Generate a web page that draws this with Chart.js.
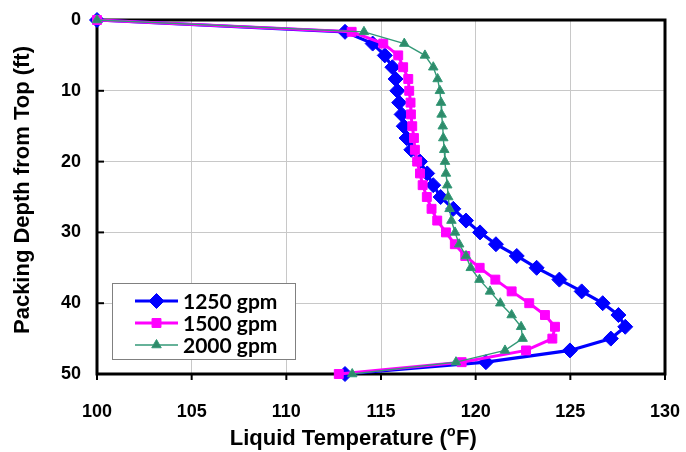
<!DOCTYPE html>
<html>
<head>
<meta charset="utf-8">
<script src="https://cdn.jsdelivr.net/npm/chart.js@4/dist/chart.umd.min.js"></script>
<style>
html,body{margin:0;padding:0;background:#fff;}
#wrap{width:686px;height:452px;position:relative;}
</style>
</head>
<body>
<div id="wrap"><canvas id="c" width="686" height="452"></canvas></div>
<script>
// ---- data ----
const depthFt = [0, 1.67, 3.33, 5, 6.67, 8.33, 10, 11.67, 13.33, 15, 16.67, 18.33, 20, 21.67, 23.33, 25,
  26.67, 28.33, 30, 31.67, 33.33, 35, 36.67, 38.33, 40, 41.67, 43.33, 45, 46.67, 48.33, 50];
const temp1250 = [100, 113.1, 114.56, 115.2, 115.6, 115.77, 115.86, 115.96, 116.09, 116.2, 116.35, 116.6,
  117.06, 117.44, 117.76, 118.15, 118.82, 119.49, 120.23, 121.07, 122.17, 123.22, 124.42, 125.6,
  126.71, 127.54, 127.9, 127.14, 124.98, 120.54, 113.1];
const temp1500 = [100, 113.45, 115.12, 115.91, 116.17, 116.44, 116.49, 116.56, 116.58, 116.65, 116.74,
  116.79, 116.91, 117.06, 117.2, 117.42, 117.67, 117.97, 118.43, 118.9, 119.45, 120.21, 121.04,
  121.9, 122.83, 123.66, 124.19, 124.05, 122.66, 119.26, 112.77];
const temp2000 = [100, 114.1, 116.23, 117.32, 117.76, 117.99, 118.11, 118.17, 118.2, 118.26, 118.29,
  118.34, 118.38, 118.43, 118.5, 118.55, 118.62, 118.72, 118.91, 119.13, 119.49, 119.74, 120.2,
  120.76, 121.3, 121.9, 122.4, 122.48, 121.55, 118.96, 113.48];
const seriesLabels = ["1250 gpm", "1500 gpm", "2000 gpm"];
const xAxisTitle = ["Liquid Temperature (", "o", "F)"];
const yAxisTitle = "Packing Depth from Top (ft)";
const xTickValues = [100, 105, 110, 115, 120, 125, 130];
const yTickValues = [0, 10, 20, 30, 40, 50];

const pts = arr => arr.map((t, i) => ({x: t, y: depthFt[i]}));
const ARIAL = '"Liberation Sans", Arial, sans-serif';
const LEG_FONT = 'Lato, "Open Sans", sans-serif';

const datasets = [
  {label: seriesLabels[0], data: pts(temp1250), borderColor: '#0000FF', backgroundColor: '#0000FF',
   borderWidth: 3.2, pointStyle: 'rectRot', pointRadius: 7.5, pointBorderWidth: 1, order: 3},
  {label: seriesLabels[1], data: pts(temp1500), borderColor: '#FF00FF', backgroundColor: '#FF00FF',
   borderWidth: 3, pointStyle: 'rect', pointRadius: 6.3, pointBorderWidth: 1, order: 2},
  {label: seriesLabels[2], data: pts(temp2000), borderColor: '#339977', backgroundColor: '#2E8B6A',
   borderWidth: 1.4, pointStyle: 'triangle', pointRadius: 5.5, pointBorderWidth: 1, order: 1}
];
datasets.forEach(d => { d.showLine = true; d.clip = false; d.tension = 0; d.pointHoverRadius = d.pointRadius; });

const framePlugin = {
  id: 'frame',
  beforeDatasetsDraw(chart) {
    const {ctx, chartArea: a, scales} = chart;
    ctx.save();
    ctx.strokeStyle = '#000';
    ctx.lineWidth = 2;
    xTickValues.forEach(v => {
      const px = scales.x.getPixelForValue(v);
      ctx.beginPath(); ctx.moveTo(px, a.bottom); ctx.lineTo(px, a.bottom + 6); ctx.stroke();
    });
    yTickValues.forEach(v => {
      const py = scales.y.getPixelForValue(v);
      ctx.beginPath(); ctx.moveTo(a.left, py); ctx.lineTo(a.left + 7, py); ctx.stroke();
    });
    ctx.lineWidth = 3;
    ctx.strokeRect(a.left, a.top, a.right - a.left, a.bottom - a.top);
    ctx.restore();
  },
  afterDraw(chart) {
    const {ctx} = chart;
    ctx.save();
    ctx.fillStyle = '#000';
    // y title
    ctx.font = 'bold 22px ' + ARIAL;
    ctx.textAlign = 'center';
    ctx.textBaseline = 'middle';
    ctx.translate(23, 190);
    ctx.rotate(-Math.PI / 2);
    ctx.fillText(yAxisTitle, 0, 0);
    ctx.setTransform(1, 0, 0, 1, 0, 0);
    // x title with superscript
    ctx.textAlign = 'left';
    ctx.textBaseline = 'alphabetic';
    const fMain = 'bold 22px ' + ARIAL, fSup = 'bold 14px ' + ARIAL;
    ctx.font = fMain; const w1 = ctx.measureText(xAxisTitle[0]).width;
    const w3 = ctx.measureText(xAxisTitle[2]).width;
    ctx.font = fSup; const w2 = ctx.measureText(xAxisTitle[1]).width;
    const x0 = 353 - (w1 + w2 + w3) / 2;
    const base = 445;
    ctx.font = fMain; ctx.fillText(xAxisTitle[0], x0, base);
    ctx.font = fSup; ctx.fillText(xAxisTitle[1], x0 + w1, base - 9);
    ctx.font = fMain; ctx.fillText(xAxisTitle[2], x0 + w1 + w2 + 0.5, base);
    // legend
    const bx = 112, by = 283, bw = 183, bh = 76;
    ctx.fillStyle = '#fff';
    ctx.fillRect(bx, by, bw, bh);
    ctx.strokeStyle = '#808080';
    ctx.lineWidth = 1;
    ctx.strokeRect(bx + 0.5, by + 0.5, bw, bh);
    const rows = [301, 323, 345];
    datasets.forEach((d, i) => {
      const y = rows[i];
      ctx.strokeStyle = d.borderColor;
      ctx.lineWidth = d.borderWidth;
      ctx.beginPath(); ctx.moveTo(135, y); ctx.lineTo(178, y); ctx.stroke();
      ctx.fillStyle = d.backgroundColor;
      ctx.lineWidth = d.pointBorderWidth;
      Chart.helpers.drawPoint(ctx, {pointStyle: d.pointStyle, radius: d.pointRadius, rotation: 0, borderWidth: d.pointBorderWidth}, 156.5, y);
      ctx.fillStyle = '#000';
      ctx.font = 'bold 21px ' + LEG_FONT;
      ctx.textBaseline = 'middle';
      ctx.fillText(d.label, 183, y + 1);
    });
    ctx.restore();
  }
};

new Chart(document.getElementById('c'), {
  type: 'scatter',
  data: {datasets},
  options: {
    responsive: false,
    animation: false,
    devicePixelRatio: 1,
    layout: {padding: {top: 20, right: 21, left: 0, bottom: 0}},
    plugins: {legend: {display: false}, tooltip: {enabled: false}},
    elements: {line: {fill: false}},
    scales: {
      x: {
        type: 'linear', min: 100, max: 130,
        afterBuildTicks: s => { s.ticks = xTickValues.map(v => ({value: v})); },
        afterFit: s => { s.height = 78; s.paddingLeft = 0; s.paddingRight = 0; },
        ticks: {color: '#000', font: {family: ARIAL, size: 18, weight: 'bold'}, padding: 27},
        grid: {color: '#c8c8c8', lineWidth: 1, drawTicks: false},
        border: {display: false}
      },
      y: {
        type: 'linear', min: 0, max: 50, reverse: true,
        afterBuildTicks: s => { s.ticks = yTickValues.map(v => ({value: v})); },
        afterFit: s => { s.width = 97; s.paddingTop = 0; s.paddingBottom = 0; },
        ticks: {color: '#000', font: {family: ARIAL, size: 18, weight: 'bold'}, padding: 16},
        grid: {color: '#c8c8c8', lineWidth: 1, drawTicks: false},
        border: {display: false}
      }
    }
  },
  plugins: [framePlugin]
});
</script>
</body>
</html>
